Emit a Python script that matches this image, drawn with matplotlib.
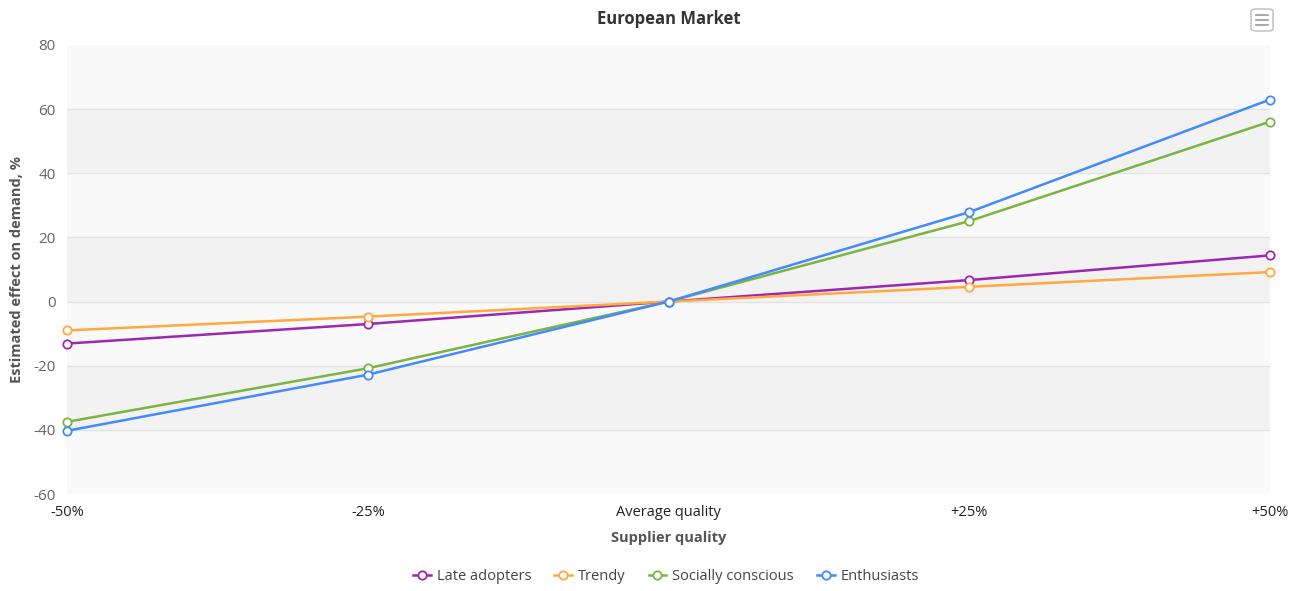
import matplotlib.pyplot as plt
from matplotlib.patches import FancyBboxPatch
from matplotlib.lines import Line2D

plt.rcParams['font.family'] = ['Open Sans', 'DejaVu Sans']
plt.rcParams['axes.unicode_minus'] = False

# data
categories = ['-50%', '-25%', 'Average quality', '+25%', '+50%']
late_adopters = [-13.1, -7.0, 0, 6.7, 14.4]
trendy = [-9.0, -4.7, 0, 4.6, 9.2]
socially_conscious = [-37.5, -20.8, 0, 25.1, 56.1]
enthusiasts = [-40.3, -22.8, 0, 27.9, 63.0]

series = [
    ('Late adopters', late_adopters, '#9C27B0'),
    ('Trendy', trendy, '#FFA940'),
    ('Socially conscious', socially_conscious, '#7CB342'),
    ('Enthusiasts', enthusiasts, '#448AFF'),
]

fig = plt.figure(figsize=(13.03, 5.91), dpi=100)
ax = fig.add_axes([67/1303, 1-494/591, (1270-67)/1303, (494-45)/591])

# alternating bands
yticks = list(range(-60, 81, 20))
for lo in yticks[:-1]:
    col = '#f2f2f2' if (lo // 20) % 2 == 0 else '#f9f9f9'
    ax.axhspan(lo, lo + 20, color=col, lw=0, zorder=0)
for t in yticks[1:-1]:
    ax.axhline(t, color='#e3e3e3', lw=1, zorder=1)

x = list(range(len(categories)))
for name, vals, col in series:
    ax.plot(x, vals, color=col, lw=1.8, marker='o', ms=6, mfc='white',
            mec=col, mew=1.3, clip_on=False, zorder=3, label=name)

ax.set_xlim(0, 4)
ax.set_ylim(-60, 80)
ax.set_yticks(yticks)
ax.set_xticks(x)
ax.set_xticklabels(categories)
for s in ax.spines.values():
    s.set_visible(False)
ax.tick_params(axis='both', length=0, labelsize=10.5)
ax.tick_params(axis='y', colors='#666666', pad=8, labelsize=11)
ax.tick_params(axis='x', colors='#222222', pad=8)

ax.set_title('European Market', fontsize=12, fontweight='bold', color='#333333', pad=15)
ax.set_xlabel('Supplier quality', fontsize=10.5, fontweight='bold', color='#555555', labelpad=8)
ax.set_ylabel('Estimated effect on demand, %', fontsize=10.5, fontweight='bold', color='#555555')
ax.yaxis.set_label_coords(-43/1203, 0.5)

handles = [Line2D([], [], color=c, lw=1.8, marker='o', ms=6, mfc='white', mec=c, mew=1.3)
           for _, _, c in series]
fig.legend(handles, [s[0] for s in series], loc='center', bbox_to_anchor=(666/1303, 1-577/591),
           ncol=4, frameon=False, fontsize=10.5, handlelength=1.2, handletextpad=0.4,
           columnspacing=1.6, labelcolor='#444444')

# menu button
bx, by, bw, bh = 1251/1303, 1-31/591, 22/1303, 22/591
fig.patches.append(FancyBboxPatch((bx, by), bw, bh, boxstyle='round,pad=0,rounding_size=0.004',
                                  transform=fig.transFigure, fc='white', ec='#bbbbbb', lw=1))
for yy in (15, 20, 25):
    fig.add_artist(Line2D([1256/1303, 1268/1303], [1-yy/591, 1-yy/591],
                          transform=fig.transFigure, color='#999999', lw=1.2))

fig.savefig('out.png', dpi=100)
